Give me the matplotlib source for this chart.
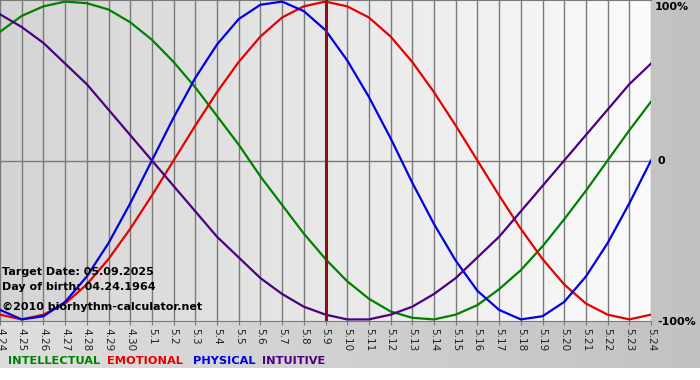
import matplotlib
matplotlib.use("Agg")
import matplotlib.pyplot as plt
import numpy as np

# day labels, 4.24 .. 5.24
day_labels = ["4.24", "4.25", "4.26", "4.27", "4.28", "4.29", "4.30",
              "5.1", "5.2", "5.3", "5.4", "5.5", "5.6", "5.7", "5.8", "5.9",
              "5.10", "5.11", "5.12", "5.13", "5.14", "5.15", "5.16", "5.17",
              "5.18", "5.19", "5.20", "5.21", "5.22", "5.23", "5.24"]

# daily values (-1 .. 1)
intellectual = [0.81, 0.91, 0.97, 1.00, 0.99, 0.95, 0.87, 0.76, 0.62, 0.46,
                0.28, 0.10, -0.10, -0.28, -0.46, -0.62, -0.76, -0.87, -0.95,
                -0.99, -1.00, -0.97, -0.91, -0.81, -0.69, -0.54, -0.37, -0.19,
                0.00, 0.19, 0.37]
emotional = [-0.97, -1.00, -0.97, -0.90, -0.78, -0.62, -0.43, -0.22, 0.00,
             0.22, 0.43, 0.62, 0.78, 0.90, 0.97, 1.00, 0.97, 0.90, 0.78,
             0.62, 0.43, 0.22, 0.00, -0.22, -0.43, -0.62, -0.78, -0.90,
             -0.97, -1.00, -0.97]
physical = [-0.94, -1.00, -0.98, -0.89, -0.73, -0.52, -0.27, 0.00, 0.27,
            0.52, 0.73, 0.89, 0.98, 1.00, 0.94, 0.82, 0.63, 0.40, 0.14,
            -0.14, -0.40, -0.63, -0.82, -0.94, -1.00, -0.98, -0.89, -0.73,
            -0.52, -0.27, 0.00]
intuitive = [0.92, 0.84, 0.74, 0.61, 0.48, 0.32, 0.16, 0.00, -0.16, -0.32,
             -0.48, -0.61, -0.74, -0.84, -0.92, -0.97, -1.00, -1.00, -0.97,
             -0.92, -0.84, -0.74, -0.61, -0.48, -0.32, -0.16, 0.00, 0.16,
             0.32, 0.48, 0.61]

series = [("INTELLECTUAL", intellectual, "#008000"),
          ("EMOTIONAL", emotional, "#e60000"),
          ("PHYSICAL", physical, "#0000e0"),
          ("INTUITIVE", intuitive, "#4b0082")]
target_idx = day_labels.index("5.9")

W, H = 700, 380
fig = plt.figure(figsize=(W / 100, H / 100), dpi=100, facecolor="white")

# outer gray background
bg = fig.add_axes([0, 12 / H, 1, 1 - 12 / H])
bg.imshow(np.linspace(0, 1, 256)[None, :], cmap=matplotlib.colors.LinearSegmentedColormap.from_list(
    "bg", ["#dedede", "#c2c2c2"]), aspect="auto", extent=[0, 1, 0, 1])
bg.set_axis_off()

# plot area
ax = fig.add_axes([0, (H - 321) / H, 651 / W, 321 / H])
x = np.arange(len(day_labels))
ax.imshow(np.linspace(0, 1, 256)[None, :], cmap=matplotlib.colors.LinearSegmentedColormap.from_list(
    "pa", ["#d4d4d4", "#fbfbfb"]), aspect="auto", extent=[0, 30, -1.01, 1.01], zorder=0)
ax.set_xlim(0, 30)
ax.set_ylim(-1.01, 1.01)

for xi in x:
    ax.axvline(xi, color="#7a7a7a", lw=1, zorder=1)
ax.axhline(0, color="#7a7a7a", lw=1, zorder=1)

for name, vals, col in series:
    ax.plot(x, vals, color=col, lw=1.6, zorder=3, solid_joinstyle="round")

ax.axvline(target_idx, color="#8b1010", lw=2.2, zorder=4)

ax.set_xticks(x)
ax.set_xticklabels(day_labels, rotation=-90, fontsize=7.5, color="#222222")
ax.tick_params(axis="x", length=3, color="#7a7a7a", pad=2)
ax.set_yticks([])
for s in ["left", "right"]:
    ax.spines[s].set_visible(False)
ax.spines["top"].set_color("#7a7a7a")
ax.spines["bottom"].set_color("#7a7a7a")

# info text
txt = dict(fontsize=8, fontweight="bold", color="black", transform=fig.transFigure)
fig.text(2 / W, 1 - 272 / H, "Target Date: 05.09.2025", va="center", **txt)
fig.text(2 / W, 1 - 287 / H, "Day of birth: 04.24.1964", va="center", **txt)
fig.text(2 / W, 1 - 307 / H, "\u00a92010 biorhythm-calculator.net", va="center", **txt)

# right side scale labels
fig.text(655 / W, 1 - 7 / H, "100%", fontsize=8, fontweight="bold", va="center")
fig.text(658 / W, 1 - 161 / H, "0", fontsize=8, fontweight="bold", va="center")
fig.text(657 / W, 1 - 322 / H, "-100%", fontsize=8, fontweight="bold", va="center")

# legend
lx = [8, 107, 193, 262]
for (name, vals, col), px in zip(series, lx):
    fig.text(px / W, 1 - 361 / H, name, color=col, fontsize=8.2, fontweight="bold", va="center")

fig.savefig("out.png", dpi=100)
